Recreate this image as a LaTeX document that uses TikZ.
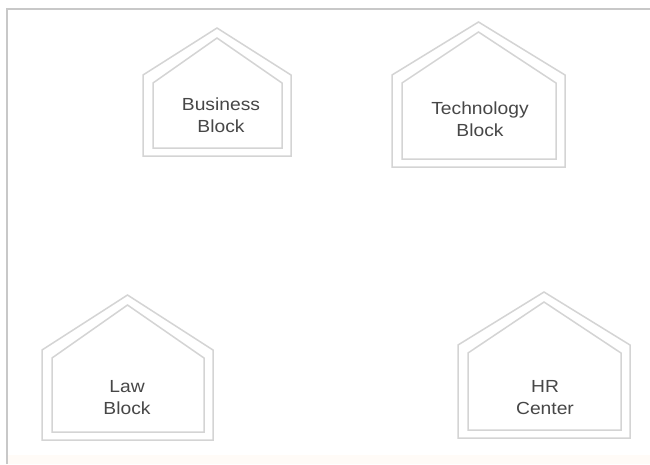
\documentclass[tikz,border=0pt]{standalone}
\usepackage{fontspec}
\setmainfont{Liberation Sans}[FakeStretch=1.1]
\usepackage{xcolor}
\definecolor{wallgray}{HTML}{D4D4D4}
\definecolor{framegray}{HTML}{C8C8C8}
\newcommand{\blockhouse}[6]{% left, right, apex y, eaves y, bottom y, name
	\draw[wall] (#1,#5) -- (#1,#4) -- ({(#1+#2)/2},#3) -- (#2,#4) -- (#2,#5) -- cycle;
	\draw[wall] ({#1+10},{#5-8}) -- ({#1+10},{#4+8}) -- ({(#1+#2)/2},{#3+10})
		-- ({#2-9},{#4+8}) -- ({#2-9},{#5-8}) -- cycle;
	\coordinate (#6) at ({(#1+#2)/2},{#5});
}

\begin{document}
\begin{tikzpicture}[x=1pt,y=-1pt,
	wall/.style={draw=wallgray, line width=1.5pt, line join=miter},
	label/.style={align=center, text=black!72, font=\fontsize{17.5}{22}\selectfont}]
	\useasboundingbox (0,0) rectangle (650,464);
	\fill[white] (0,0) rectangle (650,464);
	\fill[orange!3] (7,455) rectangle (650,464);
	\draw[framegray, line width=1.5pt] (7,464) -- (7,9) -- (650,9);

	\blockhouse{143}{291}{28}{75}{156}{bizbase}
	\blockhouse{392}{565}{22}{75}{167}{techbase}
	\blockhouse{42}{213}{295}{350}{440}{lawbase}
	\blockhouse{458}{630}{292}{345}{438}{hrbase}

	\node[label] (business) at (221,115) {Business\\Block};
	\node[label] (tech) at (480,119) {Technology\\Block};
	\node[label] (law) at (127,398) {Law\\Block};
	\node[label] (hr) at (545,398) {HR\\Center};
\end{tikzpicture}
\end{document}
